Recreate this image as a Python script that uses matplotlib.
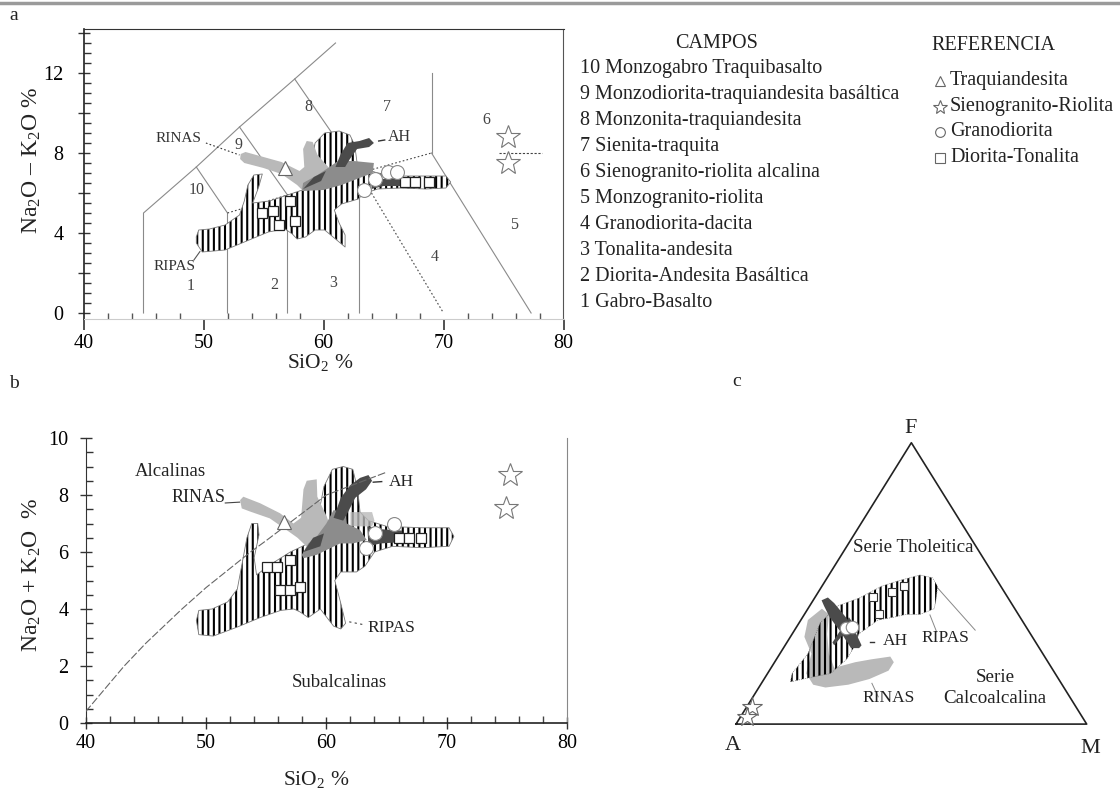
import numpy as np
import matplotlib
matplotlib.use('Agg')
import matplotlib.pyplot as plt
from matplotlib.ticker import MultipleLocator, FixedLocator
from matplotlib.lines import Line2D

plt.rcParams['font.family'] = ['Liberation Serif', 'DejaVu Sans']
plt.rcParams['mathtext.fontset'] = 'custom'
plt.rcParams['mathtext.rm'] = 'Liberation Serif'
plt.rcParams['mathtext.it'] = 'Liberation Serif:italic'
plt.rcParams['hatch.linewidth'] = 1.5
plt.rcParams['text.color'] = '#222222'

W, H = 1120, 792

# ---------------- panel a : TAS diagram ----------------
TAS_SOLID = [
    [(45, 0), (45, 5), (49.4, 7.3), (53, 9.3), (57.6, 11.7), (61, 13.5)],
    [(52, 0), (52, 5), (49.4, 7.3)],
    [(57, 0), (57, 5.9), (53, 9.3)],
    [(63, 0), (63, 7), (57.6, 11.7)],
    [(69, 8), (69, 12)],
    [(69, 8), (77.3, 0)],
]
TAS_DOTTED = [
    [(52, 5), (57, 5.9), (63, 7), (69, 8)],
    [(63, 7), (70, 0)],
]
FIELD_NUMS = ['1', '2', '3', '4', '5', '6', '7', '8', '9', '10']
FIELD_X = [48.9, 55.9, 60.8, 69.3, 75.9, 73.6, 65.3, 58.7, 52.9, 49.4]
FIELD_Y = [1.35, 1.4, 1.5, 2.8, 4.4, 9.65, 10.3, 10.3, 8.4, 6.15]

RIPAS_A_X = [49.4, 49.6, 50.5, 51.8, 53.0, 53.4, 53.7, 54.2, 54.9, 54.6, 54.1, 55.5,
             57.5, 59.0, 59.0, 59.3, 60.1, 61.3, 62.2, 62.6, 62.8, 63.5, 64.5, 66.5,
             68.5, 70.2, 70.6, 70.2, 68.5, 66.5, 64.5, 63.3, 62.9, 61.5, 60.9, 61.3,
             61.8, 61.8, 61.2, 60.1, 59.3, 58.5, 57.8, 57.4, 56.8, 55.4, 53.8, 51.8,
             49.9, 49.4]
RIPAS_A_Y = [3.8, 4.15, 4.2, 4.4, 4.9, 5.6, 6.4, 6.9, 6.95, 6.3, 5.5, 5.6,
             6.0, 6.3, 7.5, 8.5, 9.0, 9.1, 8.9, 8.4, 7.5, 7.2, 7.0, 6.85,
             6.85, 6.85, 6.55, 6.25, 6.2, 6.25, 6.2, 5.95, 5.7, 5.45, 5.15, 4.5,
             3.9, 3.3, 3.6, 4.15, 4.15, 3.8, 3.7, 3.95, 4.2, 4.05, 3.65, 3.15,
             3.05, 3.5]
RINAS_A_X = [53.1, 53.5, 55.0, 56.5, 58.0, 58.4, 58.3, 58.6, 59.1, 59.5, 60.4, 61.0,
             60.0, 58.3, 57.8, 56.5, 55.0, 53.4, 53.05]
RINAS_A_Y = [7.95, 8.05, 7.8, 7.55, 7.1, 7.3, 8.2, 8.6, 8.55, 7.9, 7.3, 6.8,
             6.3, 6.1, 6.4, 6.95, 7.25, 7.5, 7.7]
MID_A_X = [58.2, 58.3, 59.5, 60.5, 61.2, 62.5, 64.2, 64.1, 63.0, 61.5, 60.0]
MID_A_Y = [6.1, 6.5, 6.9, 7.3, 7.6, 7.6, 7.5, 7.0, 6.75, 6.4, 6.15]
AH_A_ARM_X = [61.0, 61.4, 62.0, 63.0, 63.8, 64.2, 63.8, 62.8, 62.2, 61.8]
AH_A_ARM_Y = [7.3, 7.9, 8.5, 8.6, 8.75, 8.5, 8.3, 8.2, 7.7, 7.3]
AH_A_WEDGE_X = [58.3, 59.2, 60.2, 59.8]
AH_A_WEDGE_Y = [6.2, 6.8, 7.1, 6.6]
AH_A_TAIL_X = [64.0, 65.0, 66.5, 66.5, 65.0, 64.0]
AH_A_TAIL_Y = [6.9, 6.7, 6.8, 6.35, 6.35, 6.2]
TRAQ_A_X, TRAQ_A_Y = [56.8], [7.23]
GRANO_A_X = [64.3, 65.4, 66.1, 63.4]
GRANO_A_Y = [6.7, 7.05, 7.05, 6.15]
SIENO_A_X = [75.4, 75.4]
SIENO_A_Y = [8.8, 7.5]
DIOR_A_X = [54.9, 55.8, 57.2, 56.3, 57.6, 66.8, 67.6, 68.8]
DIOR_A_Y = [5.0, 5.1, 5.6, 4.4, 4.6, 6.55, 6.55, 6.55]

CAMPOS = ['10 Monzogabro Traquibasalto',
          '9 Monzodiorita-traquiandesita basáltica',
          '8 Monzonita-traquiandesita',
          '7 Sienita-traquita',
          '6 Sienogranito-riolita alcalina',
          '5 Monzogranito-riolita',
          '4 Granodiorita-dacita',
          '3 Tonalita-andesita',
          '2 Diorita-Andesita Basáltica',
          '1 Gabro-Basalto']
REFERENCIA = ['Traquiandesita', 'Sienogranito-Riolita', 'Granodiorita', 'Diorita-Tonalita']
REF_SYMBOLS = ['^', '*', 'o', 's']

# ---------------- panel b : alkaline / subalkaline ----------------
IB_X = [40, 43.2, 45, 48, 50, 53.7, 55, 60, 65]
IB_Y = [0.4, 2.0, 2.8, 4.0, 4.75, 6.0, 6.4, 8.0, 8.8]
RIPAS_B_X = [49.2, 49.4, 50.5, 51.8, 52.6, 53.0, 53.4, 53.8, 54.3, 54.4, 54.0, 54.2,
             55.5, 57.0, 58.5, 59.3, 59.8, 60.5, 61.4, 62.2, 62.6, 62.8, 63.5, 65.0,
             68.0, 70.2, 70.6, 70.2, 68.0, 65.5, 64.0, 63.2, 62.5, 61.2, 60.7, 61.2,
             61.6, 61.2, 60.6, 59.5, 58.5, 57.8, 57.3, 56.2, 54.5, 52.5, 50.6, 49.4]
RIPAS_B_Y = [3.6, 3.95, 4.0, 4.25, 4.7, 5.6, 6.5, 7.0, 7.0, 6.6, 5.8, 5.2,
             5.6, 6.0, 6.3, 7.2, 8.3, 8.9, 9.0, 8.9, 8.2, 7.4, 7.1, 6.9,
             6.85, 6.85, 6.55, 6.2, 6.15, 6.2, 6.0, 5.5, 5.3, 5.3, 5.0, 4.2,
             3.5, 3.3, 3.4, 4.0, 3.7, 3.9, 4.0, 3.95, 3.7, 3.35, 3.05, 3.1]
RINAS_B_X = [52.83, 53.1, 54.5, 56.15, 57.26, 57.9, 58.1, 58.37, 59.2, 59.25, 60.04,
             60.3, 59.5, 58.37, 57.6, 56.7, 55.3, 53.66, 52.97]
RINAS_B_Y = [7.82, 7.94, 7.71, 7.36, 7.0, 7.2, 8.2, 8.5, 8.55, 7.94, 7.24,
             6.9, 6.4, 6.19, 6.5, 6.77, 7.18, 7.42, 7.53]
LIGHT_B_X = [62.0, 62.0, 63.8, 64.0, 63.8]
LIGHT_B_Y = [6.9, 7.4, 7.4, 7.1, 6.9]
MID_B_X = [57.96, 58.5, 59.2, 60.0, 60.6, 61.56, 61.7, 62.8, 63.36, 62.2, 61.14, 59.2, 58.1]
MID_B_Y = [5.9, 6.3, 6.54, 7.0, 7.47, 7.4, 7.0, 6.77, 6.42, 6.3, 6.3, 5.9, 5.78]
AH_B_ARM_X = [60.6, 61.2, 62.0, 62.8, 63.5, 63.8, 63.3, 62.4, 61.8, 61.4]
AH_B_ARM_Y = [7.2, 7.9, 8.35, 8.6, 8.7, 8.5, 8.2, 7.9, 7.4, 7.1]
AH_B_WEDGE_X = [58.1, 58.9, 59.8, 59.5]
AH_B_WEDGE_Y = [6.0, 6.5, 6.65, 6.2]
AH_B_TAIL_X = [63.4, 64.5, 66.3, 66.4, 64.5, 63.5]
AH_B_TAIL_Y = [6.9, 6.8, 6.75, 6.35, 6.3, 6.2]
TRAQ_B_X, TRAQ_B_Y = [56.5], [7.05]
GRANO_B_X = [64.05, 65.6, 63.3]
GRANO_B_Y = [6.65, 7.0, 6.13]
SIENO_B_X = [75.25, 74.9]
SIENO_B_Y = [8.7, 7.55]
DIOR_B_X = [55.05, 55.9, 57.0, 56.16, 57.0, 57.8, 66.0, 66.9, 67.9]
DIOR_B_Y = [5.48, 5.48, 5.72, 4.67, 4.67, 4.78, 6.5, 6.5, 6.5]

# ---------------- panel c : AFM (F and M in %, A = 100 - F - M) ----------------
RIPAS_C_F = [15, 18, 25, 36, 42, 45, 49, 51, 53, 52, 49, 44, 41, 39, 39, 38, 37, 32, 27, 23, 18, 16]
RIPAS_C_M = [8, 7, 8, 6, 8, 13, 17, 21, 26, 30, 33, 35, 36, 33, 29, 26, 22, 19, 20, 20, 18, 11]
RINAS_C_F = [37, 41, 39, 32, 25, 20, 22, 23, 24, 22, 19, 16, 14, 13, 14, 18, 25, 31]
RINAS_C_M = [2, 4, 7, 10, 14, 18, 23, 27, 32, 34, 34, 30, 25, 19, 15, 11, 9, 4]
AH_C_F = [44, 45, 43, 38, 32, 28, 27, 27, 33, 38, 42]
AH_C_M = [2.4, 3.7, 6.5, 12.3, 18.3, 21.8, 21.6, 19.3, 13.2, 7.7, 4.1]
AH_C2_F = [29, 28, 36, 38]
AH_C2_M = [13, 14, 15.3, 13.2]
GRANO_C_F = [34, 34.6]
GRANO_C_M = [14.4, 15.7]
SIENO_C_F = [6.2, 2.6]
SIENO_C_M = [1.4, 1.8]
DIOR_C_F = [45, 47, 49, 39]
DIOR_C_M = [16.5, 21, 23.3, 21.4]
BOUND_C_F = [48.8, 33.4]
BOUND_C_M = [32.8, 51.5]

LIGHT = '#b9b9b9'
MID = '#8c8c8c'
DARK = '#4b4b4b'


def fx(px):
    return px / W


def fy(py):
    return 1 - py / H


def tern(F, M):
    F = np.asarray(F, float) / 100.0
    M = np.asarray(M, float) / 100.0
    return M + F / 2.0, F * np.sqrt(3) / 2.0


def draw_groups(ax, ripas, rinas, mid, ah_list, light=None):
    ax.fill(ripas[0], ripas[1], facecolor='white', edgecolor='black',
            hatch='|||', linewidth=0, zorder=2)
    ax.plot(list(ripas[0]) + [ripas[0][0]], list(ripas[1]) + [ripas[1][0]],
            color='#777777', lw=0.6, zorder=2.1)
    ax.fill(rinas[0], rinas[1], color=LIGHT, lw=0, zorder=3)
    if light is not None:
        ax.fill(light[0], light[1], color=LIGHT, lw=0, alpha=0.8, zorder=3)
    ax.fill(mid[0], mid[1], color=MID, lw=0, zorder=3.5)
    for xs, ys in ah_list:
        ax.fill(xs, ys, color=DARK, lw=0, zorder=4)


def draw_points(ax, tri, grano, sieno, dior):
    ax.plot(dior[0], dior[1], 's', ms=7, mfc='white', mec='#222222', mew=0.9,
            ls='none', zorder=5)
    ax.plot(tri[0], tri[1], '^', ms=10, mfc='white', mec='#666666', mew=0.8,
            ls='none', zorder=6)
    ax.plot(grano[0], grano[1], 'o', ms=10, mfc='white', mec='#888888', mew=0.8,
            ls='none', zorder=6)
    ax.plot(sieno[0], sieno[1], '*', ms=18, mfc='white', mec='#777777', mew=0.8,
            ls='none', zorder=6)


fig = plt.figure(figsize=(W / 100, H / 100), dpi=100)
fig.add_artist(Line2D([0, 1], [fy(3), fy(3)], color='#9a9a9a', lw=2.5))

# ---- panel a ----
axa = fig.add_axes([fx(83.5), fy(319), 480 / W, 290 / H])
axa.set_xlim(40, 80)
axa.set_ylim(-0.3, 14.2)
for line in TAS_SOLID:
    xs, ys = zip(*line)
    axa.plot(xs, ys, color='#8a8a8a', lw=0.8, zorder=1)
for line in TAS_DOTTED:
    xs, ys = zip(*line)
    axa.plot(xs, ys, color='#444444', lw=0.8, ls=(0, (1.5, 2)), zorder=1)
axa.plot([74.6, 78.2], [8.0, 8.0], color='#444444', lw=0.8, ls=(0, (2, 1.5)), zorder=1)
for t, x, y in zip(FIELD_NUMS, FIELD_X, FIELD_Y):
    axa.text(x, y, t, fontsize=11.5, color='#444444', ha='center', va='center')

draw_groups(axa, (RIPAS_A_X, RIPAS_A_Y), (RINAS_A_X, RINAS_A_Y), (MID_A_X, MID_A_Y),
            [(AH_A_ARM_X, AH_A_ARM_Y), (AH_A_WEDGE_X, AH_A_WEDGE_Y),
             (AH_A_TAIL_X, AH_A_TAIL_Y)])
draw_points(axa, (TRAQ_A_X, TRAQ_A_Y), (GRANO_A_X, GRANO_A_Y),
            (SIENO_A_X, SIENO_A_Y), (DIOR_A_X, DIOR_A_Y))

axa.plot([50.2, 53.0], [8.5, 7.9], color='#333333', lw=0.8, ls=(0, (1.5, 2)))
axa.plot([49.2, 49.7], [2.65, 3.07], color='#555555', lw=0.8)
axa.plot([64.6, 65.1], [8.6, 8.65], color='#333333', lw=1)
axa.text(47.9, 8.7, 'RINAS', fontsize=11, ha='center', va='center', color='#333333')
axa.text(47.6, 2.35, 'RIPAS', fontsize=11, ha='center', va='center', color='#333333')
axa.text(66.3, 8.8, 'AH', fontsize=11.5, ha='center', va='center', color='#333333')

axa.xaxis.set_major_locator(FixedLocator([40, 50, 60, 70, 80]))
axa.xaxis.set_minor_locator(MultipleLocator(2))
axa.yaxis.set_major_locator(MultipleLocator(2))
axa.yaxis.set_minor_locator(MultipleLocator(0.5))
axa.set_yticklabels(['' if v % 4 else '%d' % v for v in axa.get_yticks()])
axa.tick_params(axis='x', which='major', direction='out', length=8, width=1.2,
                labelsize=14.5, pad=3, color='#333333')
axa.tick_params(axis='x', which='minor', direction='in', length=4, width=1,
                color='#555555')
axa.tick_params(axis='y', which='major', direction='inout', length=9, width=1,
                labelsize=14.5, pad=10, color='#333333')
axa.tick_params(axis='y', which='minor', direction='in', length=5, width=1,
                color='#333333')
axa.spines['bottom'].set_color('#cccccc')
axa.spines['left'].set_color('#222222')
axa.spines['left'].set_linewidth(1.2)
axa.spines['top'].set_color('#333333')
axa.spines['right'].set_color('#555555')
axa.set_ylim(-0.3, 14.2)
fig.text(fx(32), fy(160), 'Na$_2$O – K$_2$O %', rotation=90, fontsize=17,
         ha='center', va='center')
fig.text(fx(320), fy(363), 'SiO$_2$ %', fontsize=15.5, ha='center', va='center')
fig.text(fx(14), fy(16), 'a', fontsize=14, ha='center', va='center')

# legends of panel a
fig.text(fx(717), fy(43), 'CAMPOS', fontsize=14.5, ha='center', va='center')
for i, t in enumerate(CAMPOS):
    fig.text(fx(580), fy(68 + i * 26.1), t, fontsize=14.5, ha='left', va='center')
fig.text(fx(931), fy(46), 'REFERENCIA', fontsize=14.5, ha='left', va='center')
for i, (t, m) in enumerate(zip(REFERENCIA, REF_SYMBOLS)):
    yy = fy(81 + i * 25.5)
    fig.add_artist(Line2D([fx(940)], [yy], marker=m, ms=7 if m != '*' else 10,
                          mfc='white', mec='#666666', mew=0.8, ls='none'))
    fig.text(fx(950), yy, t, fontsize=14.5, ha='left', va='center')

# ---- panel b ----
axb = fig.add_axes([fx(85.7), fy(723), 481.3 / W, 285 / H])
axb.set_xlim(40, 80)
axb.set_ylim(0, 10)
axb.plot(IB_X, IB_Y, color='#666666', lw=0.8, ls=(0, (7, 2)), zorder=4.5)
draw_groups(axb, (RIPAS_B_X, RIPAS_B_Y), (RINAS_B_X, RINAS_B_Y), (MID_B_X, MID_B_Y),
            [(AH_B_ARM_X, AH_B_ARM_Y), (AH_B_WEDGE_X, AH_B_WEDGE_Y),
             (AH_B_TAIL_X, AH_B_TAIL_Y)], light=(LIGHT_B_X, LIGHT_B_Y))
draw_points(axb, (TRAQ_B_X, TRAQ_B_Y), (GRANO_B_X, GRANO_B_Y),
            (SIENO_B_X, SIENO_B_Y), (DIOR_B_X, DIOR_B_Y))
axb.plot([51.6, 52.8], [7.72, 7.75], color='#444444', lw=0.8)
axb.plot([63.9, 64.6], [8.45, 8.47], color='#333333', lw=1)
axb.plot([61.9, 63.1], [3.55, 3.45], color='#444444', lw=0.8, ls=(0, (2, 3)))
axb.text(49.4, 7.9, 'RINAS', fontsize=13, ha='center', va='center')
axb.text(66.2, 8.47, 'AH', fontsize=12.5, ha='center', va='center')
axb.text(65.4, 3.32, 'RIPAS', fontsize=12.5, ha='center', va='center')
axb.text(47.0, 8.82, 'Alcalinas', fontsize=13.5, ha='center', va='center')
axb.text(61.1, 1.41, 'Subalcalinas', fontsize=13.5, ha='center', va='center')

axb.xaxis.set_major_locator(MultipleLocator(10))
axb.xaxis.set_minor_locator(MultipleLocator(2))
axb.yaxis.set_major_locator(MultipleLocator(2))
axb.yaxis.set_minor_locator(MultipleLocator(0.5))
axb.tick_params(axis='x', which='major', direction='inout', length=8, width=1,
                labelsize=14.5, pad=4, color='#333333')
axb.tick_params(axis='x', which='minor', direction='in', length=5, width=1,
                color='#444444')
axb.tick_params(axis='y', which='major', direction='inout', length=9, width=1,
                labelsize=14.5, pad=8, color='#333333')
axb.tick_params(axis='y', which='minor', direction='in', length=5, width=1,
                color='#333333')
axb.spines['top'].set_visible(False)
axb.spines['right'].set_color('#888888')
axb.spines['left'].set_color('#333333')
axb.spines['bottom'].set_color('#222222')
axb.spines['bottom'].set_linewidth(1.2)
fig.text(fx(32), fy(575), 'Na$_2$O + K$_2$O  %', rotation=90, fontsize=17,
         ha='center', va='center')
fig.text(fx(316), fy(780), 'SiO$_2$ %', fontsize=15.5, ha='center', va='center')
fig.text(fx(14), fy(383), 'b', fontsize=14, ha='center', va='center')

# ---- panel c ----
axc = fig.add_axes([fx(700), 0, 420 / W, 372 / H])
axc.set_xlim(-0.1027, 1.095)
axc.set_ylim(-0.209, 0.936)
axc.axis('off')
tx, ty = tern([0, 0, 100, 0], [0, 100, 0, 0])
axc.plot(tx, ty, color='#222222', lw=1.2, zorder=1)
x, y = tern(RINAS_C_F, RINAS_C_M)
axc.fill(x, y, color=LIGHT, lw=0, zorder=2)
x, y = tern(RIPAS_C_F, RIPAS_C_M)
axc.fill(x, y, facecolor='none', edgecolor='black', hatch='|||', lw=0, zorder=3)
axc.plot(np.append(x, x[0]), np.append(y, y[0]), color='#777777', lw=0.5,
         ls=(0, (1.5, 1.5)), zorder=3)
x, y = tern(AH_C_F, AH_C_M)
axc.fill(x, y, color=DARK, lw=0, zorder=4)
x, y = tern(AH_C2_F, AH_C2_M)
axc.fill(x, y, color=DARK, lw=0, zorder=4)
x, y = tern(DIOR_C_F, DIOR_C_M)
axc.plot(x, y, 's', ms=6, mfc='white', mec='#333333', mew=0.8, ls='none', zorder=5)
x, y = tern(GRANO_C_F, GRANO_C_M)
axc.plot(x, y, 'o', ms=9, mfc='white', mec='#888888', mew=0.8, ls='none', zorder=6)
x, y = tern(SIENO_C_F, SIENO_C_M)
axc.plot(x, y, '*', ms=15, mfc='white', mec='#666666', mew=0.8, ls='none', zorder=6)
x, y = tern(BOUND_C_F, BOUND_C_M)
axc.plot(x, y, color='#888888', lw=0.7, zorder=1)
x, y = tern([38.8, 32.8], [35.9, 40.8])
axc.plot(x, y, color='#888888', lw=0.7, zorder=1)
x, y = tern([14.5, 9.7], [31.5, 35.7])
axc.plot(x, y, color='#888888', lw=0.7, zorder=1)
x, y = tern([29.3, 29.3], [23.6, 24.7])
axc.plot(x, y, color='#333333', lw=1, zorder=1)

axc.text(0.499, 0.911, 'F', fontsize=16, ha='center', va='center')
axc.text(-0.009, -0.065, 'A', fontsize=16, ha='center', va='center')
axc.text(1.009, -0.074, 'M', fontsize=16, ha='center', va='center')
axc.text(0.505, 0.545, 'Serie Tholeitica', fontsize=13.7, ha='center', va='center')
axc.text(0.7385, 0.142, 'Serie', fontsize=13.7, ha='center', va='center')
axc.text(0.7385, 0.080, 'Calcoalcalina', fontsize=13.7, ha='center', va='center')
axc.text(0.455, 0.2555, 'AH', fontsize=12.5, ha='center', va='center')
axc.text(0.597, 0.265, 'RIPAS', fontsize=12.5, ha='center', va='center')
axc.text(0.434, 0.080, 'RINAS', fontsize=12.5, ha='center', va='center')
fig.text(fx(737), fy(381), 'c', fontsize=14, ha='center', va='center')

fig.savefig('out.png', dpi=100)
